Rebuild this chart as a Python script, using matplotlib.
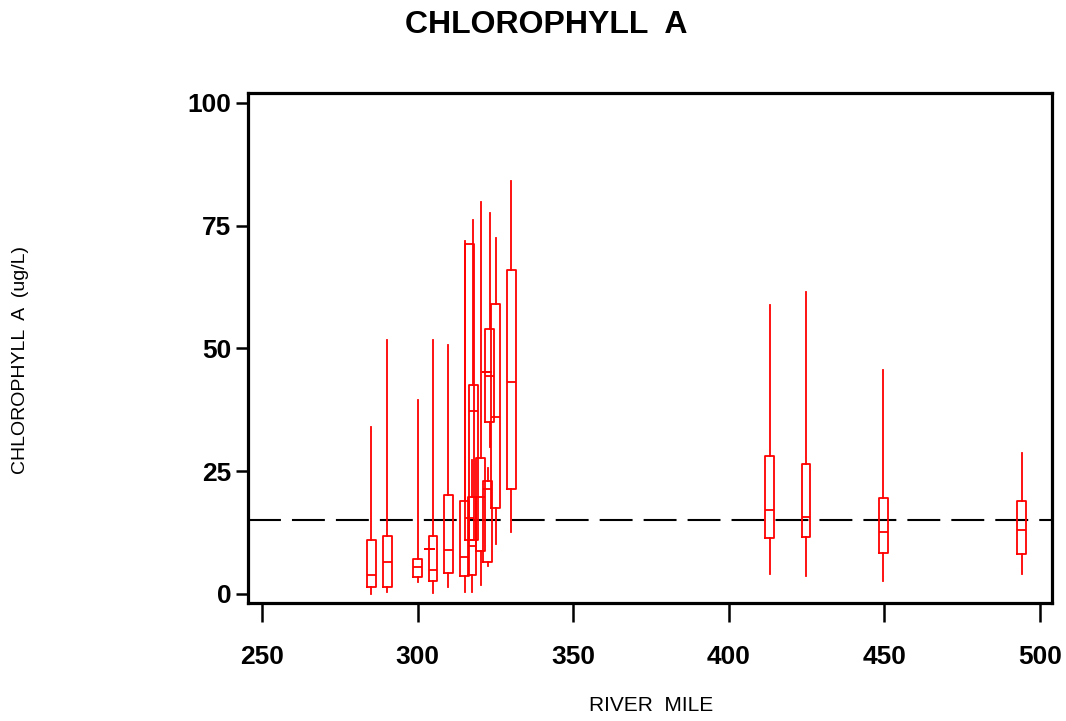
import matplotlib
matplotlib.use("Agg")
import matplotlib.pyplot as plt

plt.rcParams["font.family"] = ["Liberation Sans", "DejaVu Sans"]

# river mile position of each box
miles = [285.1, 290.3, 300.1, 303.8, 305.0, 309.9, 315.1, 316.8, 317.5, 317.9,
         320.3, 322.3, 322.5, 323.2, 325.1, 330.2, 413.2, 424.9, 449.7, 494.2]
# whisker low, Q1, median, Q3, whisker high (ug/L)
whis_lo = [0.0, 0.5, 2.4, 9.1, 0.3, 1.4, 0.5, 11.0, 0.5, 11.0,
           1.8, 45.1, 5.6, 30.0, 10.1, 12.7, 4.1, 3.6, 2.7, 4.1]
q1 = [1.4, 1.4, 3.4, 9.1, 2.7, 4.2, 3.7, 11.0, 3.9, 11.0,
      8.8, 45.1, 6.5, 35.1, 17.6, 21.3, 11.3, 11.5, 8.4, 8.1]
median = [3.9, 6.5, 5.4, 9.1, 4.8, 9.0, 7.6, 15.5, 9.8, 37.3,
          19.8, 45.1, 21.3, 44.3, 36.0, 43.2, 17.0, 15.6, 12.7, 13.0]
q3 = [11.0, 11.9, 7.1, 9.1, 11.9, 20.2, 19.0, 71.3, 19.8, 42.6,
      27.6, 45.1, 22.9, 53.9, 59.0, 65.9, 28.1, 26.4, 19.6, 19.0]
whis_hi = [33.9, 51.7, 39.5, 9.1, 51.7, 50.6, 71.9, 71.3, 27.3, 76.2,
           79.8, 45.1, 25.7, 77.5, 72.4, 84.1, 58.9, 61.4, 45.6, 28.7]
reference_level = 15

stats = []
for i in range(len(miles)):
    stats.append({"whislo": whis_lo[i], "q1": q1[i], "med": median[i],
                  "q3": q3[i], "whishi": whis_hi[i], "fliers": []})

fig = plt.figure(figsize=(10.66, 7.21), dpi=100)
ax = fig.add_axes([0.2326, 0.1637, 0.7542, 0.7074])

red = "#ff0000"
ax.bxp(stats, positions=miles, widths=2.8, showcaps=False, manage_ticks=False,
       boxprops=dict(color=red, linewidth=1.3),
       whiskerprops=dict(color=red, linewidth=1.3),
       medianprops=dict(color=red, linewidth=1.3))

ax.axhline(reference_level, color="black", linewidth=1.5, dashes=(15.8, 5.3), zorder=1)

ax.set_xlim(245.5, 503.9)
ax.set_ylim(-1.83, 102.0)
ax.set_xticks([250, 300, 350, 400, 450, 500])
ax.set_yticks([0, 25, 50, 75, 100])
for sp in ax.spines.values():
    sp.set_linewidth(2.3)
ax.tick_params(axis="x", length=14, width=1.8, pad=16, labelsize=19)
ax.tick_params(axis="y", length=9, width=1.8, pad=3, labelsize=19)
for lab in ax.get_xticklabels() + ax.get_yticklabels():
    lab.set_fontweight("bold")

fig.text(0.512, 0.966, "CHLOROPHYLL  A", ha="center", va="center",
         fontsize=23, fontweight="bold")
fig.text(0.611, 0.021, "RIVER  MILE", ha="center", va="center", fontsize=15)
fig.text(0.019, 0.50, "CHLOROPHYLL  A  (ug/L)", ha="center", va="center",
         rotation=90, fontsize=14)

fig.savefig("out.png", dpi=100)
